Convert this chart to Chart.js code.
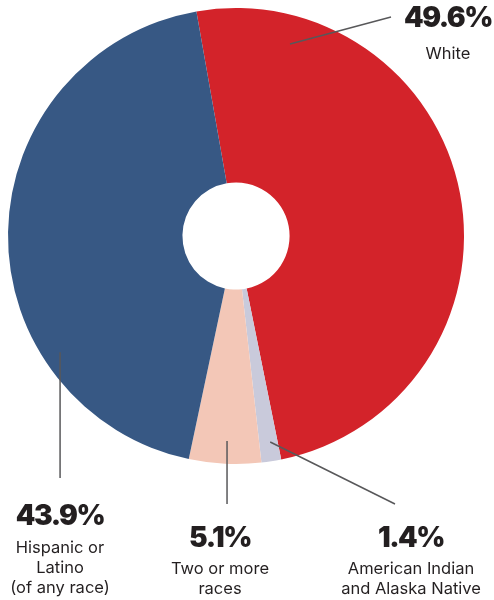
<!DOCTYPE html>
<html>
<head>
<meta charset="utf-8">
<script src="https://cdn.jsdelivr.net/npm/chart.js@4.4.0/dist/chart.umd.min.js"></script>
<style>
  html, body { margin: 0; padding: 0; background: #fff; }
  #wrap { position: relative; width: 494px; height: 600px; }
</style>
</head>
<body>
<div id="wrap"><canvas id="raceChart"></canvas></div>
<script>
const categories = ['White', 'American Indian and Alaska Native', 'Two or more races', 'Hispanic or Latino (of any race)'];
const shares = [49.6, 1.4, 5.1, 43.9];
const labelLines = [
  ['White'],
  ['American Indian', 'and Alaska Native'],
  ['Two or more', 'races'],
  ['Hispanic or', 'Latino', '(of any race)'],
];
const sliceColors = ['#d3232a', '#c9cadb', '#f3c7b7', '#375884'];

// where each callout sits: point on the slice (fraction along arc, fraction of radius),
// end of the leader line, and text position
const callouts = [
  { along: 0.144, rad: 0.875, end: [391, 17], textX: 448, valueY: 27, gap: 32 },
  { along: 0.40, rad: 0.916, end: [395, 504], textX: 411, valueY: 547, gap: 27 },
  { along: 0.485, rad: 0.90, end: null, endY: 504, textX: 220, valueY: 547, gap: 27 },
  { along: 0.282, rad: 0.925, end: null, endY: 478, textX: 60, valueY: 525, gap: 28 },
];

const calloutPlugin = {
  id: 'callouts',
  afterDraw(chart) {
    const ctx = chart.ctx;
    const arcs = chart.getDatasetMeta(0).data;
    ctx.save();
    arcs.forEach((arc, i) => {
      const c = callouts[i];
      const p = arc.getProps(['x', 'y', 'startAngle', 'endAngle', 'outerRadius'], true);
      const a = p.startAngle + (p.endAngle - p.startAngle) * c.along;
      const r = p.outerRadius * c.rad;
      const sx = p.x + Math.cos(a) * r;
      const sy = p.y + Math.sin(a) * r;
      const ex = c.end ? c.end[0] : sx;
      const ey = c.end ? c.end[1] : c.endY;

      ctx.strokeStyle = '#58585a';
      ctx.lineWidth = 1.5;
      ctx.beginPath();
      ctx.moveTo(sx, sy);
      ctx.lineTo(ex, ey);
      ctx.stroke();

      ctx.fillStyle = '#231f20';
      ctx.textAlign = 'center';
      ctx.textBaseline = 'alphabetic';
      ctx.font = '900 28px Inter';
      ctx.letterSpacing = '-1.5px';
      ctx.fillText(shares[i].toFixed(1) + '%', c.textX, c.valueY);

      ctx.font = '400 16.5px Inter';
      ctx.letterSpacing = '0px';
      labelLines[i].forEach((line, j) => {
        ctx.fillText(line, c.textX, c.valueY + c.gap + j * 20);
      });
    });
    ctx.restore();
  },
};

new Chart(document.getElementById('raceChart'), {
  type: 'doughnut',
  data: {
    labels: categories,
    datasets: [
      {
        data: shares,
        backgroundColor: sliceColors,
        borderWidth: 0,
        hoverOffset: 0,
      },
    ],
  },
  options: {
    responsive: true,
    maintainAspectRatio: false,
    animation: false,
    rotation: -10,
    cutout: '23.5%',
    layout: {
      padding: { left: 8, top: 8, right: 30, bottom: 136 },
    },
    plugins: {
      legend: { display: false },
      tooltip: { enabled: false },
      title: { display: false },
    },
  },
  plugins: [calloutPlugin],
});
</script>
</body>
</html>
